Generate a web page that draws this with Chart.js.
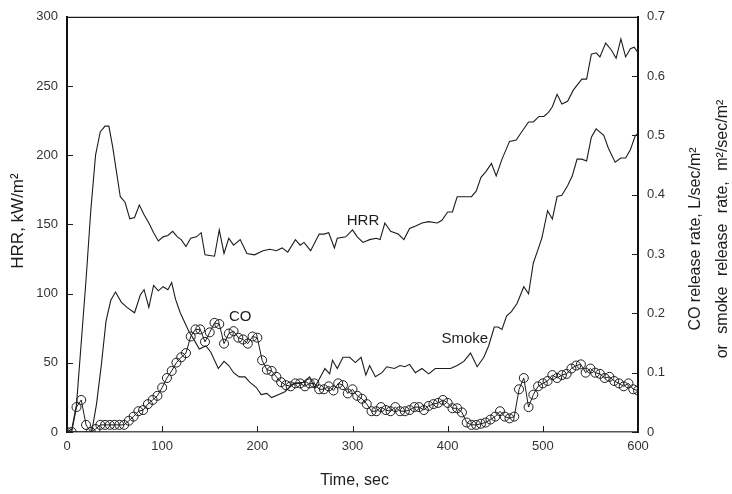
<!DOCTYPE html>
<html>
<head>
<meta charset="utf-8">
<script src="https://cdn.jsdelivr.net/npm/chart.js@4.4.1/dist/chart.umd.min.js"></script>
<style>
    html, body { margin: 0; padding: 0; background: #fff; }
    #wrap { width: 732px; height: 494px; }
</style>
</head>
<body>
<div id="wrap"><canvas id="myChart" width="732" height="494"></canvas></div>
<script>
// heat release rate, kW/m2
const hrrTime = [0, 5, 10, 15, 20, 25, 30, 35, 40, 44, 48, 52, 56, 61, 66, 71, 76, 81, 86, 91, 96, 101, 106, 111, 116, 120, 125, 130, 136, 141,
    145, 155, 160, 165, 170, 175, 182, 189, 197, 206, 213, 220, 226, 232, 240, 245, 249, 256, 265, 270, 275, 281, 284, 293, 300, 305, 311, 318, 325, 329,
    334, 340, 348, 354, 360, 367, 373, 380, 389, 394, 400, 405, 410, 416, 425, 430, 435, 440, 446, 451, 457, 465, 472, 477, 485, 490, 496, 501, 506, 510,
    515, 520, 526, 532, 541, 546, 551, 556, 560, 566, 572, 577, 582, 587, 592, 596, 600];
const hrrValues = [0, 2, 20, 65, 110, 160, 200, 217, 221, 221, 206, 188, 170, 166, 154, 155, 164, 157, 151, 144, 138, 141, 142, 145, 141, 139, 134, 140, 141, 144,
    128, 127, 146, 129, 140, 135, 139, 129, 128, 131, 132, 131, 133, 130, 139, 135, 137, 131, 143, 143, 144, 133, 140, 141, 146, 141, 137, 139, 140, 139,
    151, 145, 143, 139, 147, 149, 151, 152, 151, 153, 159, 159, 170, 170, 170, 174, 184, 188, 194, 185, 197, 210, 211, 216, 224, 224, 228, 228, 231, 235,
    244, 237, 239, 247, 255, 255, 273, 274, 271, 281, 276, 270, 284, 271, 277, 278, 274];

// smoke release rate, m2/sec/m2
const smokeTime = [0, 26, 31, 36, 41, 46, 51, 57, 63, 71, 77, 81, 86, 91, 96, 101, 106, 110, 114, 119, 123, 128, 134, 139, 146, 151, 159, 165, 170, 175,
    181, 187, 192, 199, 204, 210, 215, 222, 229, 238, 248, 255, 260, 264, 271, 276, 279, 284, 290, 297, 303, 309, 314, 318, 324, 331, 336, 344, 350, 355,
    360, 366, 373, 380, 387, 394, 403, 410, 417, 424, 431, 438, 443, 449, 453, 457, 462, 467, 473, 480, 485, 490, 495, 499, 505, 510, 515, 520, 526, 531,
    536, 541, 546, 551, 556, 564, 569, 576, 582, 587, 592, 597, 600];
const smokeValues = [0, 0, 0.047, 0.112, 0.187, 0.222, 0.236, 0.219, 0.210, 0.201, 0.231, 0.240, 0.210, 0.247, 0.238, 0.245, 0.240, 0.252, 0.224, 0.201,
    0.187, 0.170, 0.154, 0.140, 0.145, 0.135, 0.107, 0.119, 0.112, 0.100, 0.093, 0.093, 0.084, 0.075, 0.063, 0.065, 0.058, 0.063, 0.068, 0.082,
    0.084, 0.093, 0.075, 0.086, 0.107, 0.098, 0.121, 0.107, 0.126, 0.126, 0.117, 0.126, 0.096, 0.112, 0.093, 0.100, 0.110, 0.107, 0.112, 0.110,
    0.114, 0.100, 0.107, 0.098, 0.107, 0.107, 0.107, 0.112, 0.119, 0.133, 0.110, 0.126, 0.145, 0.177, 0.177, 0.173, 0.196, 0.203, 0.217, 0.245,
    0.233, 0.285, 0.308, 0.327, 0.373, 0.359, 0.397, 0.399, 0.415, 0.432, 0.460, 0.460, 0.457, 0.497, 0.511, 0.500, 0.478, 0.455, 0.462, 0.462,
    0.476, 0.499, 0.504];

// CO release rate, L/sec/m2
const coTime = [0, 5, 10, 15, 20, 25, 30, 35, 40, 45, 50, 55, 60, 65, 70, 75, 80, 85, 90, 95, 100, 105, 110, 115, 120, 125, 130, 135, 140, 145,
    150, 155, 160, 165, 170, 175, 180, 185, 190, 195, 200, 205, 210, 215, 220, 225, 230, 235, 240, 245, 250, 255, 260, 265, 270, 275, 280, 285, 290, 295,
    300, 305, 310, 315, 320, 325, 330, 335, 340, 345, 350, 355, 360, 365, 370, 375, 380, 385, 390, 395, 400, 405, 410, 415, 420, 425, 430, 435, 440, 445,
    450, 455, 460, 465, 470, 475, 480, 485, 490, 495, 500, 505, 510, 515, 520, 525, 530, 535, 540, 545, 550, 555, 560, 565, 570, 575, 580, 585, 590, 595, 600];
const coValues = [0, 0, 0.042, 0.054, 0.012, 0, 0.005, 0.012, 0.012, 0.012, 0.012, 0.012, 0.012, 0.019, 0.026, 0.035, 0.037, 0.047, 0.054, 0.061,
    0.075, 0.091, 0.103, 0.117, 0.126, 0.133, 0.161, 0.173, 0.173, 0.152, 0.168, 0.184, 0.182, 0.149, 0.166, 0.170, 0.159, 0.156, 0.149, 0.161,
    0.159, 0.121, 0.105, 0.103, 0.093, 0.084, 0.079, 0.077, 0.082, 0.082, 0.077, 0.082, 0.082, 0.072, 0.072, 0.077, 0.070, 0.082, 0.079, 0.065,
    0.072, 0.061, 0.056, 0.047, 0.035, 0.035, 0.042, 0.037, 0.035, 0.042, 0.035, 0.035, 0.037, 0.042, 0.042, 0.037, 0.044, 0.047, 0.049, 0.054,
    0.049, 0.040, 0.040, 0.033, 0.016, 0.012, 0.012, 0.014, 0.016, 0.021, 0.026, 0.035, 0.026, 0.023, 0.026, 0.072, 0.091, 0.042, 0.063, 0.077,
    0.082, 0.086, 0.096, 0.091, 0.096, 0.098, 0.107, 0.112, 0.114, 0.100, 0.107, 0.100, 0.098, 0.091, 0.093, 0.086, 0.082, 0.077, 0.082, 0.072, 0.070];

const xTicks = { min: 0, max: 600, step: 100 };
const hrrTicks = { min: 0, max: 300, step: 50 };
const rateTicks = { min: 0, max: 0.7, step: 0.1 };

// curve labels, placed in data units
const curveLabels = [
    { text: 'HRR', x: 311, y: 152.5, axis: 'y' },
    { text: 'Smoke', x: 418, y: 0.157, axis: 'y2' },
    { text: 'CO', x: 182, y: 0.194, axis: 'y2' },
];

const toPoints = (xs, ys) => xs.map((x, i) => ({ x: x, y: ys[i] }));

const FONT = '"Liberation Sans", Arial, sans-serif';
const INK = '#1c1c1c';

// inward ticks, top border, axis titles and curve labels
const framePlugin = {
    id: 'frame',
    afterDraw(chart) {
        const ctx = chart.ctx;
        const area = chart.chartArea;
        const { x, y, y2 } = chart.scales;
        const len = 6;

        ctx.save();
        ctx.strokeStyle = INK;
        ctx.lineWidth = 1.2;
        ctx.beginPath();
        ctx.moveTo(area.left, area.top + 0.5);
        ctx.lineTo(area.right, area.top + 0.5);
        ctx.stroke();

        ctx.lineWidth = 1;
        ctx.beginPath();
        y.ticks.forEach(t => {
            const py = Math.round(y.getPixelForValue(t.value)) + 0.5;
            ctx.moveTo(area.left, py);
            ctx.lineTo(area.left + len, py);
        });
        y2.ticks.forEach(t => {
            const py = Math.round(y2.getPixelForValue(t.value)) + 0.5;
            ctx.moveTo(area.right, py);
            ctx.lineTo(area.right - len, py);
        });
        x.ticks.forEach(t => {
            const px = Math.round(x.getPixelForValue(t.value)) + 0.5;
            ctx.moveTo(px, area.bottom);
            ctx.lineTo(px, area.bottom - len);
        });
        ctx.stroke();

        ctx.fillStyle = INK;
        ctx.textAlign = 'center';
        ctx.textBaseline = 'alphabetic';
        ctx.font = '16px ' + FONT;

        // x title
        ctx.fillText('Time, sec', (area.left + area.right) / 2 + 2, 485);

        // left title
        ctx.save();
        ctx.font = '17px ' + FONT;
        ctx.translate(23, 221);
        ctx.rotate(-Math.PI / 2);
        ctx.fillText('HRR, kW/m²', 0, 0);
        ctx.restore();

        // right titles, two lines
        ctx.save();
        ctx.translate(700, 239);
        ctx.rotate(-Math.PI / 2);
        ctx.fillText('CO release rate, L/sec/m²', 0, 0);
        ctx.restore();

        ctx.save();
        ctx.wordSpacing = '6px';
        ctx.translate(727, 229);
        ctx.rotate(-Math.PI / 2);
        ctx.fillText('or smoke release rate, m²/sec/m²', 0, 0);
        ctx.restore();

        ctx.font = '15px ' + FONT;
        ctx.textBaseline = 'middle';
        curveLabels.forEach(l => {
            const scale = chart.scales[l.axis];
            ctx.fillText(l.text, x.getPixelForValue(l.x), scale.getPixelForValue(l.y));
        });
        ctx.restore();
    }
};

const tickFont = { family: FONT, size: 13 };

new Chart(document.getElementById('myChart').getContext('2d'), {
    type: 'line',
    data: {
        datasets: [
            {
                label: 'HRR',
                data: toPoints(hrrTime, hrrValues),
                yAxisID: 'y',
                borderColor: INK,
                borderWidth: 1.1,
                pointRadius: 0,
                tension: 0
            },
            {
                label: 'Smoke',
                data: toPoints(smokeTime, smokeValues),
                yAxisID: 'y2',
                borderColor: INK,
                borderWidth: 1.1,
                pointRadius: 0,
                tension: 0
            },
            {
                label: 'CO',
                data: toPoints(coTime, coValues),
                yAxisID: 'y2',
                borderColor: INK,
                borderWidth: 1,
                pointRadius: 4.5,
                pointBorderWidth: 1,
                pointBorderColor: INK,
                pointBackgroundColor: 'rgba(255,255,255,0)',
                tension: 0
            }
        ]
    },
    options: {
        responsive: false,
        animation: false,
        layout: { padding: { top: 13, left: 0, right: 0, bottom: 0 } },
        plugins: {
            legend: { display: false },
            tooltip: { enabled: false }
        },
        scales: {
            x: {
                type: 'linear',
                min: xTicks.min,
                max: xTicks.max,
                afterFit: s => { s.height = 62; },
                ticks: { stepSize: xTicks.step, color: '#333', font: tickFont, padding: 7, maxRotation: 0 },
                grid: { drawOnChartArea: false, drawTicks: false },
                border: { color: '#555', width: 1.5 }
            },
            y: {
                position: 'left',
                min: hrrTicks.min,
                max: hrrTicks.max,
                afterFit: s => { s.width = 67; },
                ticks: { stepSize: hrrTicks.step, color: '#333', font: tickFont, padding: 9 },
                grid: { drawOnChartArea: false, drawTicks: false },
                border: { color: '#111', width: 2 }
            },
            y2: {
                position: 'right',
                min: rateTicks.min,
                max: rateTicks.max,
                afterFit: s => { s.width = 94; },
                ticks: {
                    stepSize: rateTicks.step,
                    color: '#333',
                    font: tickFont,
                    padding: 9,
                    callback: v => v === 0 ? '0' : v.toFixed(1)
                },
                grid: { drawOnChartArea: false, drawTicks: false },
                border: { color: '#111', width: 2 }
            }
        }
    },
    plugins: [framePlugin]
});
</script>
</body>
</html>
